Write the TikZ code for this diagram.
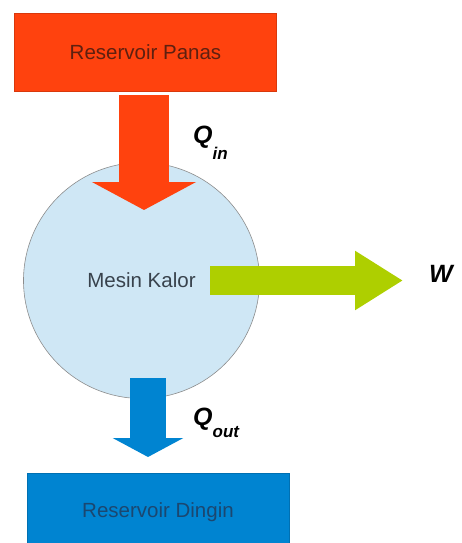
\documentclass[tikz,border=0pt]{standalone}
\usepackage{fontspec}
\setmainfont{Liberation Sans}
\usetikzlibrary{arrows.meta}
\definecolor{panas}{HTML}{FF420E}
\definecolor{dingin}{HTML}{0084D1}
\definecolor{kerja}{HTML}{AECF00}
\definecolor{mesin}{HTML}{CFE7F5}
\definecolor{panasteks}{HTML}{5E2010}
\definecolor{dinginteks}{HTML}{1B4770}
\definecolor{mesinteks}{HTML}{38424C}

\begin{document}
\begin{tikzpicture}
          [x = 1pt, y = -1pt, inner sep = 0pt,
           reservoir/.style = {rectangle, minimum width = 262pt, minimum height = 78pt,
                               line width = .5pt, font = \fontsize{20.5}{24}\selectfont},
           lbl/.style = {font = \fontsize{25}{28}\selectfont\bfseries\itshape}]
          \useasboundingbox (0,0) rectangle (461,543);
          \clip (0,0) rectangle (461,543);
          \node[reservoir, fill = panas, draw = panas!85!black, text = panasteks] (panas) at (145.5,52) {Reservoir Panas};
          \node[reservoir, fill = dingin, draw = dingin!85!black, text = dinginteks] (dingin) at (158,512) {Reservoir Dingin};
          \node[circle, minimum size = 236pt, fill = mesin, draw = black!45, line width = .6pt,
                text = mesinteks, font = \fontsize{20.5}{24}\selectfont] (mesin) at (141.5,280.5) {Mesin Kalor};
          \coordinate (qintip) at (144,210);
          \coordinate (wtip) at (403,280.5);
          \coordinate (qouttip) at (148,457);
          \draw[line width = 50pt, panas, -{Triangle[width = 103pt, length = 28pt]}] ([yshift = -4pt]qintip |- panas.south) -- (qintip);
          \draw[line width = 29pt, kerja, -{Triangle[width = 56pt, length = 48pt]}] ([xshift = 68.5pt]mesin.center) -- (wtip);
          \draw[line width = 36pt, dingin, -{Triangle[width = 70pt, length = 19pt]}] ([yshift = 20.5pt]qouttip |- mesin.south) -- (qouttip);
          \node[lbl, anchor = base west] (qin) at (193,143) {Q\raisebox{-16pt}{\fontsize{17}{20}\selectfont in}};
          \node[lbl, anchor = base west] (qout) at (193,425) {Q\raisebox{-12pt}{\fontsize{17}{20}\selectfont out}};
          \node[lbl, anchor = base] (w) at (441,282) {W};
        \end{tikzpicture}
\end{document}
